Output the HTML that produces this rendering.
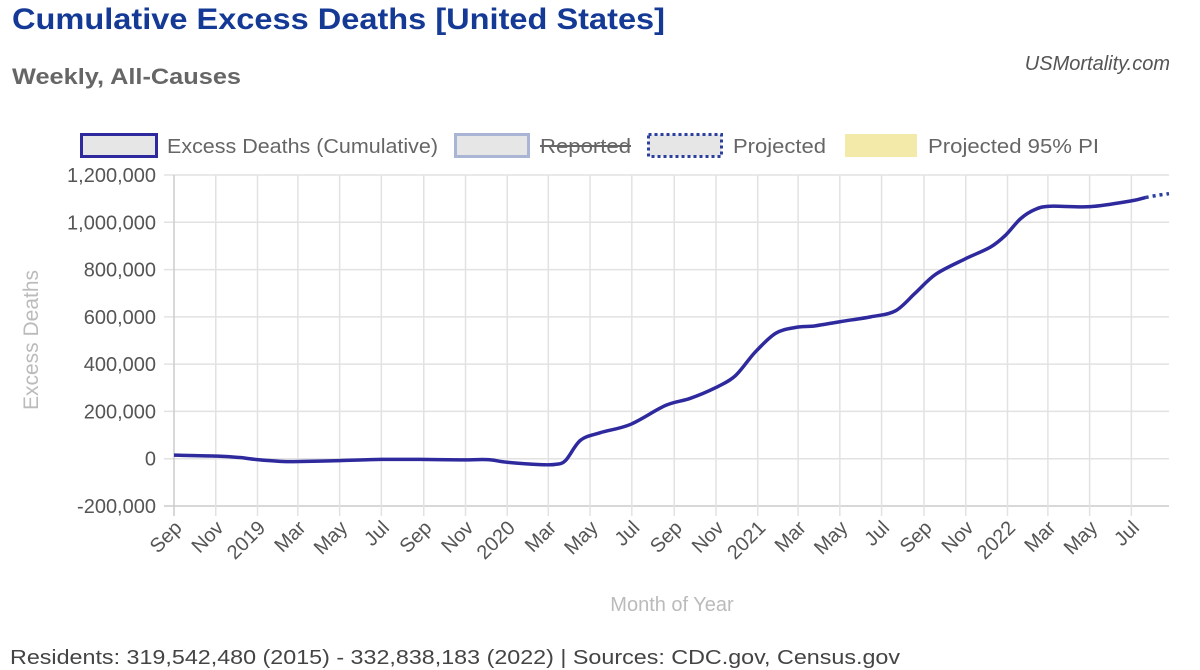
<!DOCTYPE html>
<html><head><meta charset="utf-8"><style>
html,body{margin:0;padding:0;background:#fff;width:1200px;height:670px;overflow:hidden}
svg{display:block;font-family:"Liberation Sans",Arial,sans-serif}
</style></head><body>
<svg id="chart" width="1200" height="670" viewBox="0 0 1200 670">
<text x="12" y="29" font-size="30" font-weight="bold" fill="#143a96" textLength="653" lengthAdjust="spacingAndGlyphs">Cumulative Excess Deaths [United States]</text>
<text x="12" y="84" font-size="22" font-weight="bold" fill="#666" textLength="229" lengthAdjust="spacingAndGlyphs">Weekly, All-Causes</text>
<text x="1170" y="70" font-size="20" font-style="italic" fill="#555" text-anchor="end">USMortality.com</text>
<g>
<g><rect x="81.5" y="134.5" width="75" height="22" fill="#e6e6e6" stroke="#2e2a9e" stroke-width="3"/><text x="167" y="153" font-size="20" fill="#666" textLength="271" lengthAdjust="spacingAndGlyphs">Excess Deaths (Cumulative)</text></g>
<g><rect x="455.5" y="134.5" width="73" height="22" fill="#e6e6e6" stroke="#aab4d4" stroke-width="3"/><text x="540" y="153" font-size="20" fill="#666" textLength="91" lengthAdjust="spacingAndGlyphs">Reported</text><line x1="540" y1="146" x2="631" y2="146" stroke="#666" stroke-width="2"/></g>
<g><rect x="648.5" y="134.5" width="73" height="22" fill="#e6e6e6" stroke="#2a3fa0" stroke-width="3" stroke-dasharray="3,3"/><text x="733" y="153" font-size="20" fill="#666" textLength="93" lengthAdjust="spacingAndGlyphs">Projected</text></g>
<g><rect x="845" y="134" width="72" height="23" fill="#f3eaaa"/><text x="928" y="153" font-size="20" fill="#666" textLength="171" lengthAdjust="spacingAndGlyphs">Projected 95% PI</text></g>
</g>
<g id="grid"></g>
<g id="yaxis"></g>
<g id="xaxis"></g>
<g id="series"></g>
<text transform="translate(38,340) rotate(-90)" font-size="21" fill="#bbb" text-anchor="middle">Excess Deaths</text>
<text x="672" y="611" font-size="20" fill="#bbb" text-anchor="middle">Month of Year</text>
<text x="10" y="664" font-size="20" fill="#444" textLength="890" lengthAdjust="spacingAndGlyphs">Residents: 319,542,480 (2015) - 332,838,183 (2022) | Sources: CDC.gov, Census.gov</text>
</svg>
<script>
const yTicks=[-200000,0,200000,400000,600000,800000,1000000,1200000];
const xTickDates=["2018-09-01","2018-11-01","2019-01-01","2019-03-01","2019-05-01","2019-07-01","2019-09-01","2019-11-01","2020-01-01","2020-03-01","2020-05-01","2020-07-01","2020-09-01","2020-11-01","2021-01-01","2021-03-01","2021-05-01","2021-07-01","2021-09-01","2021-11-01","2022-01-01","2022-03-01","2022-05-01","2022-07-01"];
const xTickLabels=["Sep","Nov","2019","Mar","May","Jul","Sep","Nov","2020","Mar","May","Jul","Sep","Nov","2021","Mar","May","Jul","Sep","Nov","2022","Mar","May","Jul"];
const reportedDates=["2018-09-01","2018-11-04","2018-12-06","2019-01-01","2019-02-03","2019-03-04","2019-05-01","2019-07-01","2019-08-27","2019-10-24","2019-12-03","2020-01-01","2020-02-18","2020-03-11","2020-03-26","2020-04-17","2020-05-16","2020-06-29","2020-08-19","2020-09-24","2020-10-31","2020-11-29","2020-12-28","2021-01-27","2021-02-25","2021-03-26","2021-05-02","2021-06-15","2021-07-21","2021-08-19","2021-09-18","2021-10-31","2021-12-07","2021-12-29","2022-01-20","2022-02-11","2022-03-05","2022-05-02","2022-06-30","2022-07-22"];
const reportedValues=[15000,11000,5000,-4000,-11000,-12000,-8000,-3000,-3000,-5000,-4000,-15000,-25000,-24000,-8000,78000,110000,145000,225000,255000,300000,350000,450000,530000,555000,562000,580000,600000,625000,700000,780000,845000,895000,945000,1015000,1055000,1068000,1066000,1090000,1105000];
const projectedDates=["2022-07-22","2022-08-08","2022-08-25"];
const projectedValues=[1105000,1114000,1121000];

const X0=174,X1=1169,Y0=506,Y1=175;
const d0=Date.parse("2018-09-01"),d1=Date.parse("2022-08-25");
const xs=d=>X0+(Date.parse(d)-d0)/(d1-d0)*(X1-X0);
const ys=v=>Y0-(v-(-200000))/(1400000)*(Y0-Y1);
const NS="http://www.w3.org/2000/svg";
function mk(t,a,p){const e=document.createElementNS(NS,t);for(const k in a)e.setAttribute(k,a[k]);p.appendChild(e);return e;}
const grid=document.getElementById('grid'),ya=document.getElementById('yaxis'),xa=document.getElementById('xaxis'),se=document.getElementById('series');
yTicks.forEach(v=>{
 const l=mk('line',{x1:X0-10,x2:X1,y1:ys(v),y2:ys(v),stroke:v===-200000?'#ccc':'#e2e2e2','stroke-width':1.5},grid);
 
 
 const t=mk('text',{x:X0-18,y:ys(v)+7,'font-size':20,fill:'#555','text-anchor':'end'},ya);
 t.textContent=v.toLocaleString('en-US');
 
 
});
xTickDates.forEach((d,i)=>{
 const x=xs(d);
 const l=mk('line',{x1:x,x2:x,y1:Y1,y2:Y0+10,stroke:i===0?'#ccc':'#e2e2e2','stroke-width':1.5},grid);
 
 
 const t=mk('text',{transform:`translate(${x+9},${Y0+23}) rotate(-45)`,'font-size':20,fill:'#555','text-anchor':'end'},xa);
 t.textContent=xTickLabels[i];
 
 
});
function smooth(pts){
 let d=`M${pts[0][0]},${pts[0][1]}`;
 for(let i=0;i<pts.length-1;i++){
  const p0=pts[Math.max(0,i-1)],p1=pts[i],p2=pts[i+1],p3=pts[Math.min(pts.length-1,i+2)];
  const t=0.16;
  d+=` C${p1[0]+(p2[0]-p0[0])*t},${p1[1]+(p2[1]-p0[1])*t} ${p2[0]-(p3[0]-p1[0])*t},${p2[1]-(p3[1]-p1[1])*t} ${p2[0]},${p2[1]}`;
 }
 return d;
}
const rp=reportedDates.map((d,i)=>[xs(d),ys(reportedValues[i])]);
const line=mk('path',{d:smooth(rp),fill:'none',stroke:'#2e2a9e','stroke-width':3.5,'stroke-linejoin':'round'},se);


const pp=projectedDates.map((d,i)=>[xs(d),ys(projectedValues[i])]);
const pl=mk('path',{d:smooth(pp),fill:'none',stroke:'#2a3fa0','stroke-width':3.5,'stroke-dasharray':'3,4'},se);


</script>
</body></html>
